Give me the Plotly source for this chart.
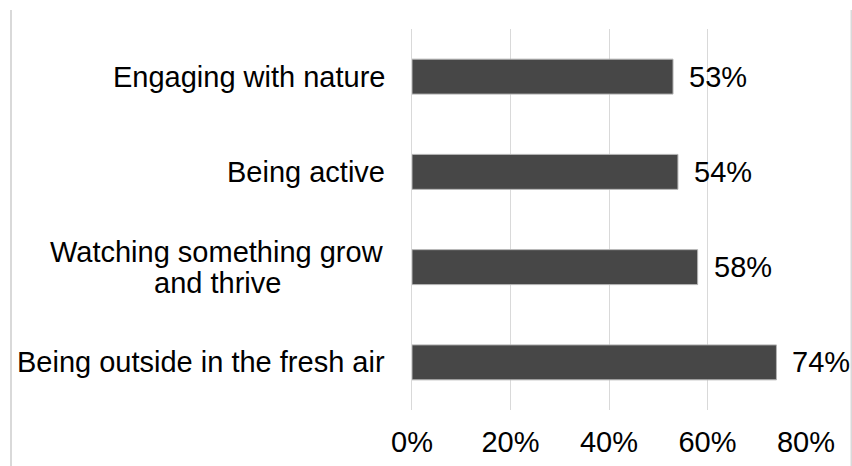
import plotly.graph_objects as go

categories = ["Being outside in the fresh air", "Watching something grow<br>and thrive", "Being active", "Engaging with nature"]
values = [74, 58, 54, 53]
tick_vals = [0, 20, 40, 60, 80]
tick_text = ["0%", "20%", "40%", "60%", "80%"]

FONT = "Liberation Sans, Arial, sans-serif"
FS = 29

fig = go.Figure()
fig.add_trace(go.Bar(
    x=values, y=categories, orientation="h",
    marker=dict(color="#474747", line=dict(color="#b4b4b4", width=1)),
    width=0.367, hoverinfo="skip",
))

annotations = []
for c, v in zip(categories, values):
    annotations.append(dict(x=v, y=c, xref="x", yref="y", text=f"{v}%", showarrow=False,
                            xanchor="left", yanchor="middle", xshift=14,
                            font=dict(family=FONT, size=FS, color="#000000")))
    lines = c.split("<br>")
    n = len(lines)
    for i, ln in enumerate(lines):
        off = ((n - 1) / 2 - i) * 31
        annotations.append(dict(x=0, y=c, xref="paper", yref="y", text=ln, showarrow=False,
                                xanchor="center" if n > 1 else "right", yanchor="middle",
                                xshift=-25 if n == 1 else -195, yshift=off,
                                font=dict(family=FONT, size=FS, color="#000000")))

shapes = [
    dict(type="line", xref="paper", yref="paper", x0=-1.0178, x1=-1.0178, y0=1.0499, y1=-0.2,
         line=dict(color="#d9d9d9", width=2)),
    dict(type="line", xref="paper", yref="paper", x0=1.1155, x1=1.1155, y0=1.0499, y1=-0.2,
         line=dict(color="#d9d9d9", width=2)),
]

fig.update_layout(
    width=852, height=466,
    margin=dict(l=412, r=46, t=29, b=56, autoexpand=False),
    paper_bgcolor="white", plot_bgcolor="white",
    showlegend=False,
    annotations=annotations, shapes=shapes,
    xaxis=dict(range=[0, 80], tickvals=tick_vals, ticktext=tick_text, automargin=False,
               showgrid=True, gridcolor="#d9d9d9", gridwidth=1, zeroline=False,
               showline=False, ticks="", ticklabelstandoff=12,
               tickfont=dict(family=FONT, size=FS, color="#000000"), fixedrange=True),
    yaxis=dict(categoryorder="array", categoryarray=categories, showticklabels=False,
               automargin=False,
               showline=True, linecolor="#d9d9d9", linewidth=1, ticks="", showgrid=False,
               range=[-0.5, 3.5], fixedrange=True),
)

fig.write_html("out.html", config={"displayModeBar": False},
               post_script="document.body.style.margin='0';document.body.style.overflow='hidden';")
